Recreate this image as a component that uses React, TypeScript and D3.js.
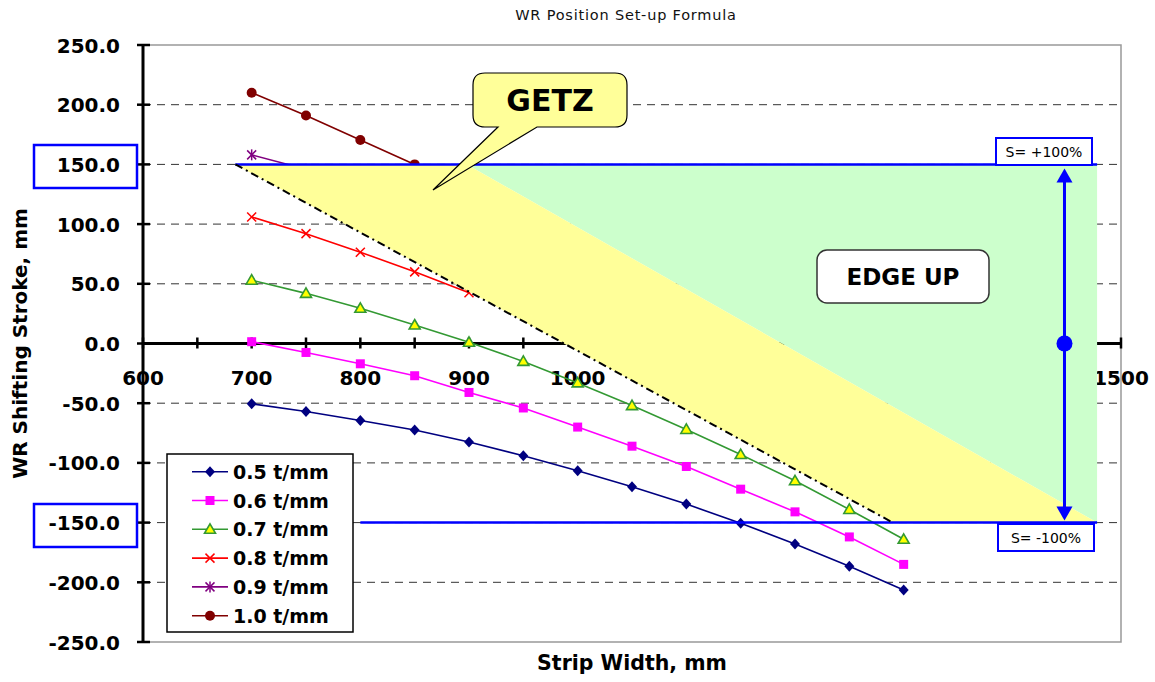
import React from "react";
import * as d3 from "d3";

const widths = [700, 750, 800, 850, 900, 950, 1000, 1050, 1100, 1150, 1200, 1250, 1300];
const s05 = [-50.5, -57, -64.5, -72.5, -82.5, -94, -106.5, -120, -134.5, -150.5, -168, -186.5, -206.5];
const s06 = [1.5, -7.5, -17, -27, -41, -54, -70, -86, -103, -122, -141, -162, -185];
const s07 = [53, 42, 29.5, 15.5, 1, -15, -33, -52, -72, -93, -115, -139, -164];
const s08 = [106, 92, 76.5, 60, 42.5];
const s09 = [158, 146];
const s10 = [210, 191, 170.5, 150];

const seriesNames = ["0.5 t/mm", "0.6 t/mm", "0.7 t/mm", "0.8 t/mm", "0.9 t/mm", "1.0 t/mm"];
const seriesValues = [s05, s06, s07, s08, s09, s10];
const seriesColors = ["#000080", "#FF00FF", "#339933", "#FF0000", "#800080", "#800000"];
const seriesMarkers = ["diamond", "square", "triangle", "x", "star", "circle"];

const xTickValues = d3.range(600, 1501, 50);
const xLabelValues = [600, 700, 800, 900, 1000, 1100, 1200, 1300, 1400, 1500];
const yTickValues = [250, 200, 150, 100, 50, 0, -50, -100, -150, -200, -250];
const gridValues = [200, 150, 100, 50, -50, -100, -150, -200];

// zone boundaries (data coords)
const greenZone: [number, number][] = [[898, 150], [1478, 150], [1478, -150]];
const yellowZone: [number, number][] = [[685, 150], [898, 150], [1478, -150], [1290, -150]];
const limitLine: [number, number][] = [[685, 150], [1290, -150]];
const upperLimit: [number, number][] = [[685, 150], [1478, 150]];
const lowerLimit: [number, number][] = [[800, -150], [1478, -150]];
const arrowX = 1448;

const x = d3.scaleLinear().domain([600, 1500]).range([143, 1121]);
const y = d3.scaleLinear().domain([-250, 250]).range([642, 45]);

const FONT = "'DejaVu Sans', sans-serif";

function Marker({ type, color, cx, cy }: { type: string; color: string; cx: number; cy: number }) {
  const t = `translate(${cx},${cy})`;
  switch (type) {
    case "diamond":
      return <path transform={t} d="M0,-5.5 L5,0 L0,5.5 L-5,0 Z" fill={color} />;
    case "square":
      return <rect x={cx - 4.5} y={cy - 4.5} width={9} height={9} fill={color} />;
    case "triangle":
      return <path transform={t} d="M0,-5.5 L5.5,4 L-5.5,4 Z" fill="#FFFF00" stroke={color} strokeWidth={1.6} />;
    case "x":
      return (
        <g transform={t} stroke={color} strokeWidth={1.5}>
          <line x1={-4.5} y1={-4.5} x2={4.5} y2={4.5} />
          <line x1={-4.5} y1={4.5} x2={4.5} y2={-4.5} />
        </g>
      );
    case "star":
      return (
        <g transform={t} stroke={color} strokeWidth={1.5}>
          <line x1={-4.5} y1={-4.5} x2={4.5} y2={4.5} />
          <line x1={-4.5} y1={4.5} x2={4.5} y2={-4.5} />
          <line x1={0} y1={-5.5} x2={0} y2={5.5} />
        </g>
      );
    default:
      return <circle cx={cx} cy={cy} r={5} fill={color} />;
  }
}

export default function App() {
  const line = d3
    .line<number>()
    .x((_, i) => x(widths[i]))
    .y((d) => y(d));
  const poly = (pts: [number, number][]) =>
    "M" + pts.map((p) => `${x(p[0])},${y(p[1])}`).join("L") + "Z";
  const seg = d3
    .line<[number, number]>()
    .x((d) => x(d[0]))
    .y((d) => y(d[1]));

  const ax = x(arrowX);
  const yTop = y(150);
  const yBot = y(-150);

  return (
    <svg
      width={1155}
      height={682}
      style={{ position: "absolute", left: 0, top: 0, background: "#fff" }}
      fontFamily={FONT}
    >
      <rect x={0} y={0} width={1155} height={682} fill="#fff" />
      {/* title */}
      <text x={626} y={20} fontSize={14.5} letterSpacing={0.8} textAnchor="middle" fill="#111">
        WR Position Set-up Formula
      </text>

      {/* gridlines */}
      {gridValues.map((v) => (
        <line key={v} x1={143} x2={1121} y1={y(v)} y2={y(v)} stroke="#333" strokeWidth={1} strokeDasharray="8,6" />
      ))}
      {/* frame */}
      <path d={`M143,45 H1121 V642 H143`} fill="none" stroke="#999" strokeWidth={1.5} />

      {/* y axis */}
      <line x1={143} x2={143} y1={45} y2={642} stroke="#000" strokeWidth={3} />
      {yTickValues.map((v) => (
        <g key={v}>
          <line x1={137} x2={150} y1={y(v)} y2={y(v)} stroke="#000" strokeWidth={2.5} />
          <text x={120} y={y(v) + 7.5} fontSize={20} fontWeight="bold" textAnchor="end">
            {v.toFixed(1)}
          </text>
        </g>
      ))}

      {/* x axis at zero */}
      <line x1={143} x2={1121} y1={y(0)} y2={y(0)} stroke="#000" strokeWidth={3} />
      {xTickValues.map((v) => (
        <line key={v} x1={x(v)} x2={x(v)} y1={y(0) - 6} y2={y(0) + 5} stroke="#000" strokeWidth={2.5} />
      ))}
      {xLabelValues.map((v) => (
        <text key={v} x={x(v)} y={385} fontSize={20} fontWeight="bold" textAnchor="middle">
          {v}
        </text>
      ))}

      {/* series */}
      {seriesValues.map((vals, si) => (
        <g key={si}>
          <path d={line(vals) || ""} fill="none" stroke={seriesColors[si]} strokeWidth={1.6} />
          {vals.map((v, i) => (
            <Marker key={i} type={seriesMarkers[si]} color={seriesColors[si]} cx={x(widths[i])} cy={y(v)} />
          ))}
        </g>
      ))}

      {/* zones */}
      <path d={poly(greenZone)} fill="#CCFFCC" />
      <path d={poly(yellowZone)} fill="#FFFF99" />

      {/* limit lines */}
      <path d={seg(upperLimit) || ""} stroke="#0000FF" strokeWidth={2.5} fill="none" />
      <path d={seg(lowerLimit) || ""} stroke="#0000FF" strokeWidth={2.5} fill="none" />
      <path d={seg(limitLine) || ""} stroke="#000" strokeWidth={2} fill="none" strokeDasharray="8,4,2,4" />

      {/* double arrow */}
      <line x1={ax} x2={ax} y1={yTop + 15} y2={yBot - 15} stroke="#0000FF" strokeWidth={3} />
      <path d={`M${ax},${yTop + 4} L${ax + 8},${yTop + 18} L${ax - 8},${yTop + 18} Z`} fill="#0000FF" />
      <path d={`M${ax},${yBot - 2} L${ax + 8},${yBot - 16} L${ax - 8},${yBot - 16} Z`} fill="#0000FF" />
      <circle cx={ax} cy={y(0)} r={8} fill="#0000FF" />

      {/* S labels */}
      <rect x={996} y={138} width={96} height={27} fill="#fff" stroke="#0000FF" strokeWidth={2} />
      <text x={1044} y={157} fontSize={14} textAnchor="middle">S= +100%</text>
      <rect x={998} y={524} width={96} height={27} fill="#fff" stroke="#0000FF" strokeWidth={2} />
      <text x={1046} y={543} fontSize={14} textAnchor="middle">S= -100%</text>

      {/* boxes around y labels */}
      <rect x={34} y={145} width={103} height={43} fill="none" stroke="#0000FF" strokeWidth={2.5} />
      <rect x={34} y={504} width={103} height={43} fill="none" stroke="#0000FF" strokeWidth={2.5} />

      {/* EDGE UP */}
      <rect x={817} y={250} width={172} height={53} rx={10} fill="#fff" stroke="#333" strokeWidth={1.5} />
      <text x={903} y={285} fontSize={23} fontWeight="bold" textAnchor="middle">EDGE UP</text>

      {/* GETZ callout */}
      <path
        d="M485,73 H615 Q627,73 627,85 V115 Q627,127 615,127 H537 L433,190 L498,127 H485 Q473,127 473,115 V85 Q473,73 485,73 Z"
        fill="#FFFF99"
        stroke="#000"
        strokeWidth={1.2}
      />
      <text x={550} y={111} fontSize={30} fontWeight="bold" textAnchor="middle">GETZ</text>

      {/* legend */}
      <rect x={167} y={454} width={186} height={178} fill="#fff" stroke="#000" strokeWidth={1.5} />
      {seriesNames.map((n, i) => {
        const ly = 471.7 + i * 28.8;
        return (
          <g key={n}>
            <line x1={192} x2={228} y1={ly} y2={ly} stroke={seriesColors[i]} strokeWidth={1.6} />
            <Marker type={seriesMarkers[i]} color={seriesColors[i]} cx={210} cy={ly} />
            <text x={233} y={ly + 7} fontSize={19} fontWeight="bold">{n}</text>
          </g>
        );
      })}

      {/* axis titles */}
      <text x={632} y={670} fontSize={20.5} fontWeight="bold" textAnchor="middle">Strip Width, mm</text>
      <text transform="translate(27,343.5) rotate(-90)" fontSize={20} fontWeight="bold" textAnchor="middle">
        WR Shifting Stroke, mm
      </text>
    </svg>
  );
}
